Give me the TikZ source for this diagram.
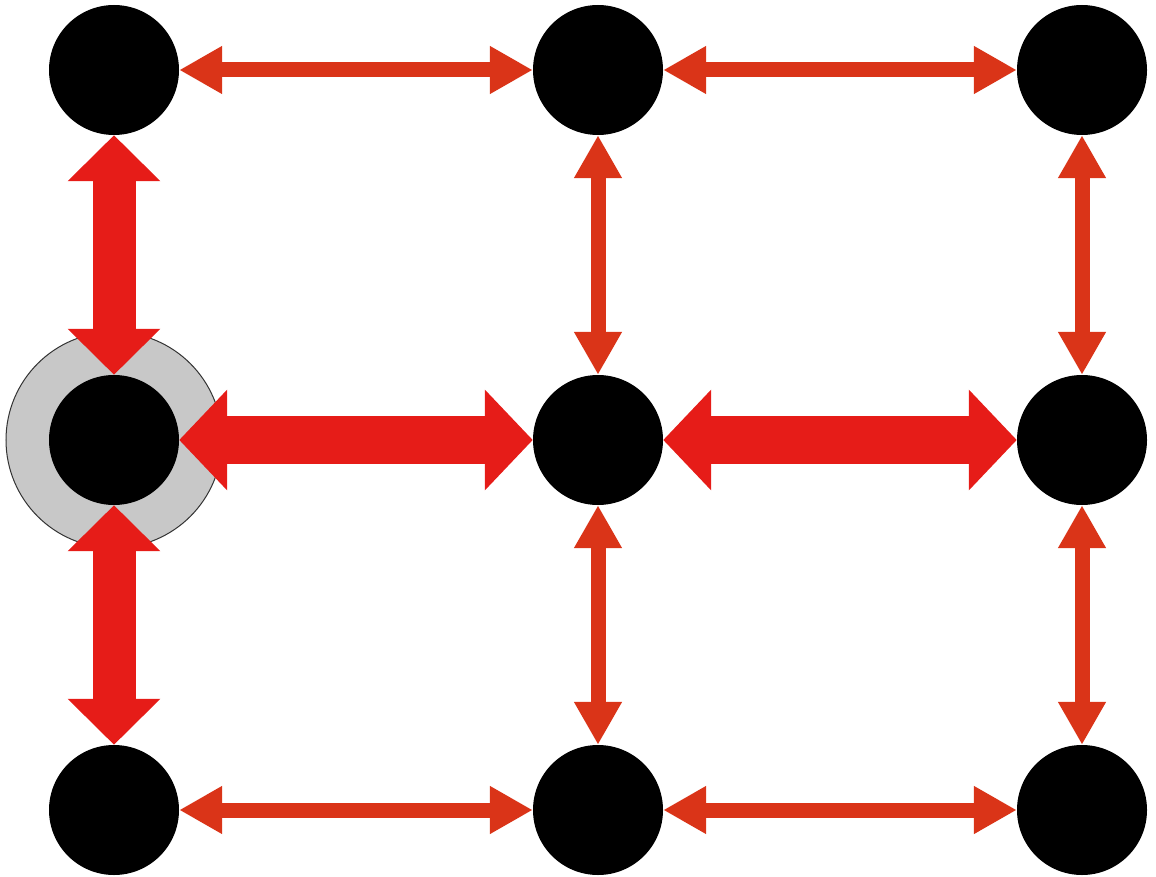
\documentclass[tikz,border=0pt]{standalone}
\usetikzlibrary{arrows.meta}
\definecolor{thinred}{RGB}{218,52,24}
\definecolor{thickred}{RGB}{230,28,24}
\definecolor{ringgray}{RGB}{200,200,200}
\tikzset{
  dot/.style={circle,fill=black,minimum size=130pt,inner sep=0pt,draw=none},
  ring/.style={circle,fill=ringgray,draw=black!80,line width=1pt,minimum size=216pt,inner sep=0pt},
  thinarrow/.style={draw=thinred,line width=15pt,
    {Triangle[length=43pt,width=45pt]}-{Triangle[length=43pt,width=45pt]}},
  thickv/.style={draw=thickred,line width=43pt,
    {Triangle[length=46pt,width=90pt]}-{Triangle[length=46pt,width=90pt]}},
  thickh/.style={draw=thickred,line width=48pt,
    {Triangle[length=48pt,width=98pt]}-{Triangle[length=48pt,width=98pt]}}
}
\begin{document}
\begin{tikzpicture}[x=1pt,y=-1pt]
\useasboundingbox (0,0) rectangle (1156,877);
\node[ring] (g) at (114,440) {};
\foreach \c/\x in {a/114,b/598,c/1082}{
  \foreach \r/\y in {1/70,2/440,3/810}{
    \node[dot] (\c\r) at (\x,\y) {};
  }
}
% thin arrows
\draw[thinarrow] (a1) -- (b1);
\draw[thinarrow] (b1) -- (c1);
\draw[thinarrow] (a3) -- (b3);
\draw[thinarrow] (b3) -- (c3);
\draw[thinarrow] (b1) -- (b2);
\draw[thinarrow] (b2) -- (b3);
\draw[thinarrow] (c1) -- (c2);
\draw[thinarrow] (c2) -- (c3);
% thick arrows
\draw[thickv] (a1) -- (a2);
\draw[thickv] (a2) -- (a3);
\draw[thickh] (a2) -- (b2);
\draw[thickh] (b2) -- (c2);
\end{tikzpicture}
\end{document}
